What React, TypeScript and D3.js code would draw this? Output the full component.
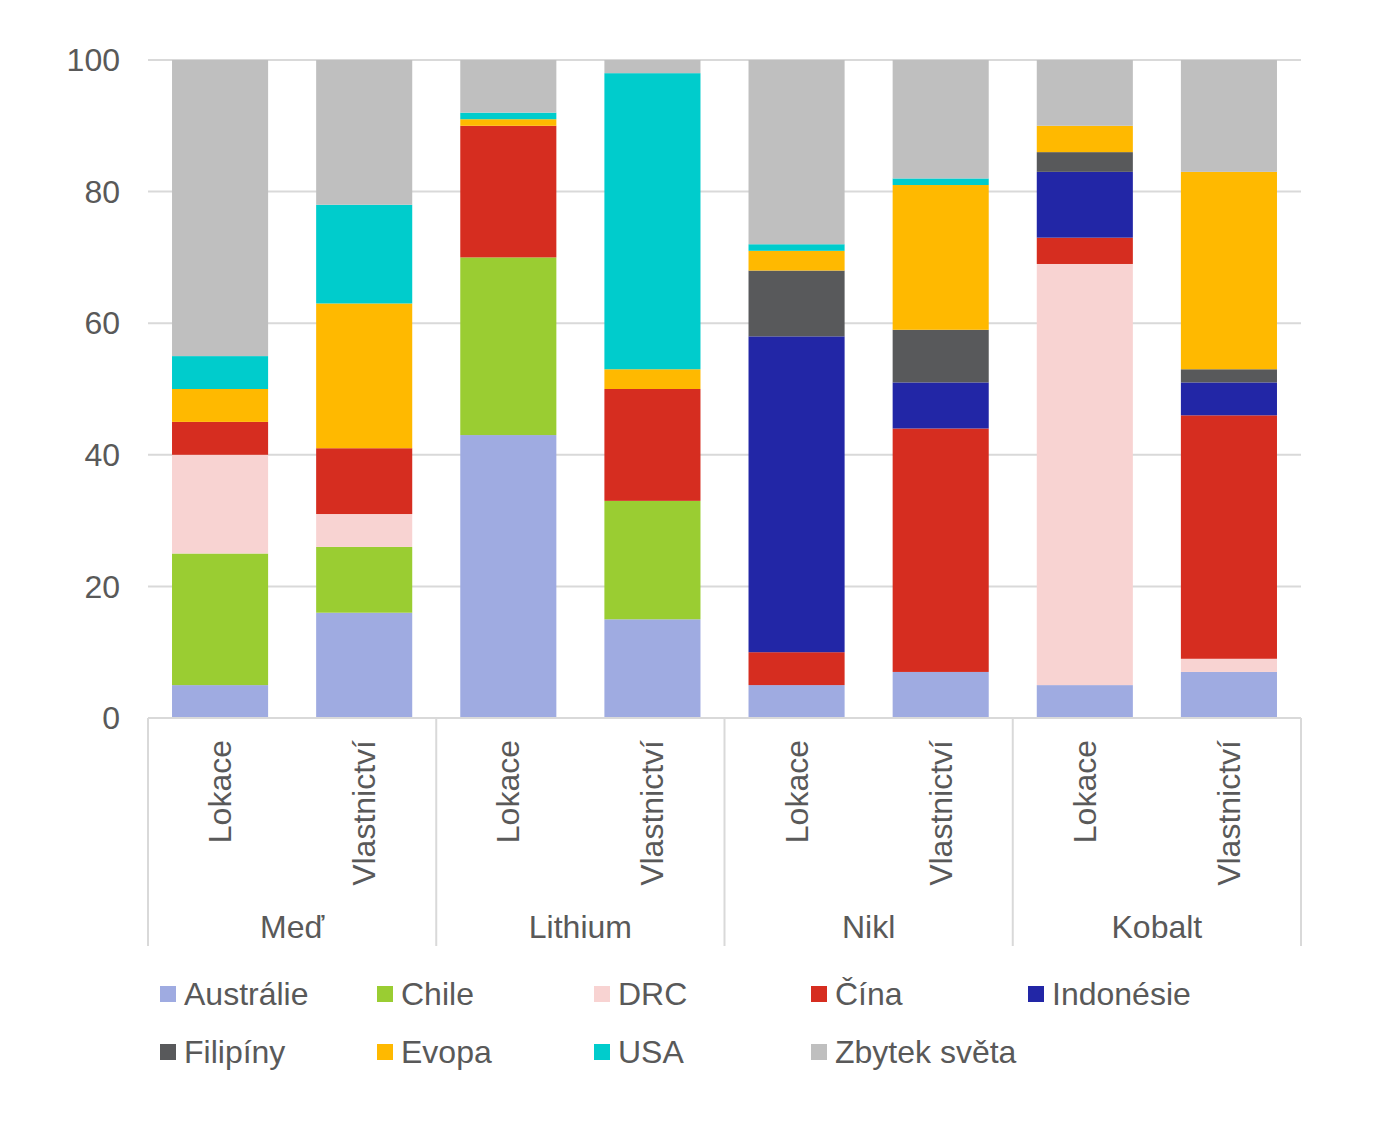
import * as d3 from "d3";
import React, { useEffect, useRef } from "react";

const groups = ["Meď", "Lithium", "Nikl", "Kobalt"];
const subLabels = ["Lokace", "Vlastnictví"];
const seriesNames = ["Austrálie", "Chile", "DRC", "Čína", "Indonésie", "Filipíny", "Evopa", "USA", "Zbytek světa"];
const seriesColors = ["#9fabe1", "#9acd32", "#f8d3d2", "#d62d20", "#2226a6", "#58595b", "#ffb900", "#00cccc", "#bfbfbf"];

// one array per series, in bar order: Meď L/V, Lithium L/V, Nikl L/V, Kobalt L/V
const australie = [5, 16, 43, 15, 5, 7, 5, 7];
const chile = [20, 10, 27, 18, 0, 0, 0, 0];
const drc = [15, 5, 0, 0, 0, 0, 64, 2];
const cina = [5, 10, 20, 17, 5, 37, 4, 37];
const indonesie = [0, 0, 0, 0, 48, 7, 10, 5];
const filipiny = [0, 0, 0, 0, 10, 8, 3, 2];
const evropa = [5, 22, 1, 3, 3, 22, 4, 30];
const usa = [5, 15, 1, 45, 1, 1, 0, 0];
const zbytek = [45, 22, 8, 2, 28, 18, 10, 17];

const seriesValues = [australie, chile, drc, cina, indonesie, filipiny, evropa, usa, zbytek];
const yTicks = [0, 20, 40, 60, 80, 100];

export default function App() {
  const ref = useRef<SVGSVGElement | null>(null);

  useEffect(() => {
    const svg = d3.select(ref.current);
    svg.selectAll("*").remove();

    const width = 1370;
    const height = 1108;
    const left = 140;
    const right = 1293;
    const top = 52;
    const bottom = 710;
    const textColor = "#595959";
    const font = "'Liberation Sans', Arial, sans-serif";
    const fs = 32;

    const bars = groups.flatMap((g) => subLabels.map((s) => `${g}|${s}`));
    const rows = bars.map((key, i) => {
      const row: Record<string, number | string> = { key };
      seriesNames.forEach((n, j) => (row[n] = seriesValues[j][i]));
      return row;
    });

    const x = d3.scaleBand().domain(bars).range([left, right]).paddingInner(1 / 3).paddingOuter(1 / 6);
    const y = d3.scaleLinear().domain([0, 100]).range([bottom, top]);

    svg.attr("width", width).attr("height", height).style("font-family", font);

    // gridlines
    svg.append("g")
      .selectAll("line")
      .data(yTicks)
      .enter()
      .append("line")
      .attr("x1", left)
      .attr("x2", right)
      .attr("y1", (d) => y(d))
      .attr("y2", (d) => y(d))
      .attr("stroke", "#d9d9d9")
      .attr("stroke-width", 2);

    svg.append("g")
      .selectAll("text")
      .data(yTicks)
      .enter()
      .append("text")
      .attr("x", left - 28)
      .attr("y", (d) => y(d))
      .attr("dy", "0.35em")
      .attr("text-anchor", "end")
      .attr("font-size", fs)
      .attr("fill", textColor)
      .text((d) => d);

    const stack = d3.stack<Record<string, number | string>>().keys(seriesNames)
      .value((d, k) => d[k] as number);
    const stacked = stack(rows);

    svg.append("g")
      .selectAll("g")
      .data(stacked)
      .enter()
      .append("g")
      .attr("fill", (_, i) => seriesColors[i])
      .selectAll("rect")
      .data((d) => d)
      .enter()
      .append("rect")
      .attr("x", (d) => x(d.data.key as string)!)
      .attr("width", x.bandwidth())
      .attr("y", (d) => y(d[1]))
      .attr("height", (d) => y(d[0]) - y(d[1]));

    // category axis
    const axisBottom = 938;
    const groupWidth = (right - left) / groups.length;
    const ax = svg.append("g");
    ax.append("line")
      .attr("x1", left).attr("x2", right)
      .attr("y1", bottom).attr("y2", bottom)
      .attr("stroke", "#d9d9d9").attr("stroke-width", 2);
    d3.range(groups.length + 1).forEach((i) => {
      ax.append("line")
        .attr("x1", left + i * groupWidth).attr("x2", left + i * groupWidth)
        .attr("y1", bottom).attr("y2", axisBottom)
        .attr("stroke", "#d9d9d9").attr("stroke-width", 2);
    });
    bars.forEach((key) => {
      const cx = x(key)! + x.bandwidth() / 2;
      ax.append("text")
        .attr("transform", `translate(${cx + 11},${bottom + 22}) rotate(-90)`)
        .attr("text-anchor", "end")
        .attr("font-size", fs)
        .attr("fill", textColor)
        .text(key.split("|")[1]);
    });
    groups.forEach((g, i) => {
      ax.append("text")
        .attr("x", left + (i + 0.5) * groupWidth)
        .attr("y", 930)
        .attr("text-anchor", "middle")
        .attr("font-size", fs)
        .attr("fill", textColor)
        .text(g);
    });

    // legend
    const legend = svg.append("g");
    seriesNames.forEach((n, i) => {
      const col = i < 5 ? i : i - 5;
      const row = i < 5 ? 0 : 1;
      const lx = 152 + col * 217;
      const ly = 986 + row * 58;
      legend.append("rect")
        .attr("x", lx).attr("y", ly - 8)
        .attr("width", 16).attr("height", 16)
        .attr("fill", seriesColors[i]);
      legend.append("text")
        .attr("x", lx + 24).attr("y", ly)
        .attr("dy", "0.35em")
        .attr("font-size", fs)
        .attr("fill", textColor)
        .text(n);
    });
  }, []);

  return <svg ref={ref} />;
}
